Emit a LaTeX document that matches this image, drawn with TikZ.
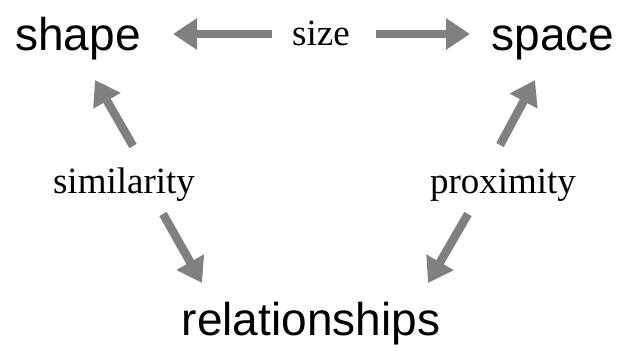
\documentclass[tikz,border=0pt]{standalone}
\usepackage{fontspec}
\setmainfont{Liberation Serif}
\newfontfamily\sansf{Liberation Sans}
\usetikzlibrary{arrows.meta}
\begin{document}
\begin{tikzpicture}[x=1pt,y=-1pt,
  big/.style={font=\sansf\fontsize{46}{50}\selectfont, inner sep=0pt, anchor=base},
  lbl/.style={font=\fontsize{37}{40}\selectfont, inner sep=0pt, anchor=base},
  arr/.style={draw={rgb,255:red,128;green,128;blue,128}, line width=8.5pt,
    -{Triangle[width=30pt,length=24pt]}}]
\useasboundingbox (0,0) rectangle (622,351);
\node[big] (shape) at (78,50) {shape};
\node[big] (space) at (553,50) {space};
\node[big] (rel) at (311,335) {relationships};
\node[lbl] (size) at (321,45) {size};
\node[lbl] (sim) at (124,193) {similarity};
\node[lbl] (prox) at (503,193) {proximity};
\coordinate (s1) at (272,34);
\coordinate (s1t) at (173,34);
\coordinate (s2) at (376,34);
\coordinate (s2t) at (470,34);
\coordinate (m1) at (133,146);
\coordinate (m1t) at (95,80);
\coordinate (m2) at (163,214);
\coordinate (m2t) at (202,283);
\coordinate (p1) at (500,145);
\coordinate (p1t) at (535,80);
\coordinate (p2) at (468,214);
\coordinate (p2t) at (428,283);
\draw[arr] (s1) -- (s1t);
\draw[arr] (s2) -- (s2t);
\draw[arr] (m1) -- (m1t);
\draw[arr] (m2) -- (m2t);
\draw[arr] (p1) -- (p1t);
\draw[arr] (p2) -- (p2t);
\end{tikzpicture}
\end{document}
